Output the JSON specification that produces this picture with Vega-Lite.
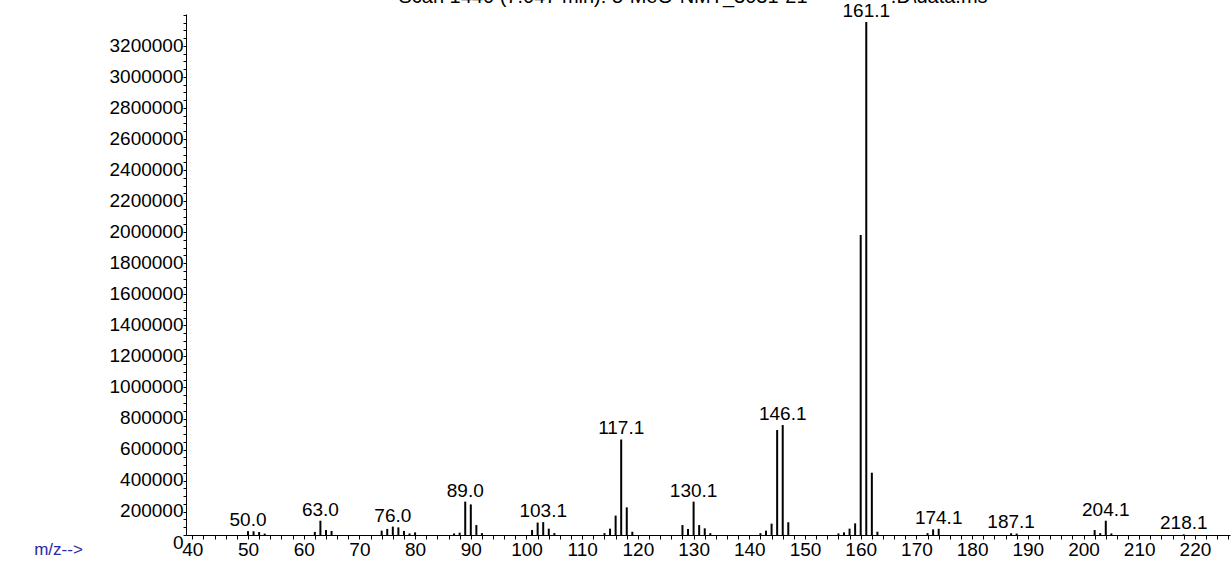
{
  "$schema": "https://vega.github.io/schema/vega-lite/v6.json",
  "autosize": {"type": "none"},
  "padding": {"left": 186, "top": 14, "right": 1, "bottom": 28},
  "width": 1044,
  "height": 521,
  "background": "white",
  "config": {
    "view": {"stroke": null},
    "font": "Liberation Sans",
    "text": {"font": "Liberation Sans"}
  },
  "title": {
    "text": "Scan 1440 (7.047 min): 5-MeO-NMT_3031-21\u00a0\u00a0\u00a0\u00a0\u00a0\u00a0\u00a0\u00a0\u00a0\u00a0\u00a0\u00a0\u00a0\u00a0\u00a0.D\\data.ms",
    "font": "Liberation Sans",
    "fontSize": 20,
    "fontWeight": "normal",
    "color": "#000000",
    "anchor": "middle",
    "frame": "group",
    "baseline": "alphabetic",
    "offset": 0,
    "dy": 21,
    "dx": -15
  },
  "data": {
    "values": [
      {"mz": 50, "intensity": 25000, "label": "50.0"},
      {"mz": 51, "intensity": 24000},
      {"mz": 52, "intensity": 19000},
      {"mz": 53, "intensity": 9000},
      {"mz": 62, "intensity": 20000},
      {"mz": 63, "intensity": 92000, "label": "63.0"},
      {"mz": 64, "intensity": 32000},
      {"mz": 65, "intensity": 26000},
      {"mz": 74, "intensity": 28000},
      {"mz": 75, "intensity": 39000},
      {"mz": 76, "intensity": 54000, "label": "76.0"},
      {"mz": 77, "intensity": 49000},
      {"mz": 78, "intensity": 26000},
      {"mz": 79, "intensity": 10000},
      {"mz": 80, "intensity": 17000},
      {"mz": 87, "intensity": 10000},
      {"mz": 88, "intensity": 15000},
      {"mz": 89, "intensity": 215000, "label": "89.0"},
      {"mz": 90, "intensity": 197000},
      {"mz": 91, "intensity": 64000},
      {"mz": 92, "intensity": 12000},
      {"mz": 101, "intensity": 32000},
      {"mz": 102, "intensity": 80000},
      {"mz": 103, "intensity": 83000, "label": "103.1"},
      {"mz": 104, "intensity": 41000},
      {"mz": 105, "intensity": 12000},
      {"mz": 114, "intensity": 12000},
      {"mz": 115, "intensity": 41000},
      {"mz": 116, "intensity": 125000},
      {"mz": 117, "intensity": 615000, "label": "117.1"},
      {"mz": 118, "intensity": 178000},
      {"mz": 119, "intensity": 21000},
      {"mz": 128, "intensity": 64000},
      {"mz": 129, "intensity": 39000},
      {"mz": 130, "intensity": 215000, "label": "130.1"},
      {"mz": 131, "intensity": 64000},
      {"mz": 132, "intensity": 43000},
      {"mz": 133, "intensity": 12000},
      {"mz": 142, "intensity": 12000},
      {"mz": 143, "intensity": 28000},
      {"mz": 144, "intensity": 73000},
      {"mz": 145, "intensity": 676000},
      {"mz": 146, "intensity": 708000, "label": "146.1"},
      {"mz": 147, "intensity": 82000},
      {"mz": 156, "intensity": 10000},
      {"mz": 157, "intensity": 17000},
      {"mz": 158, "intensity": 41000},
      {"mz": 159, "intensity": 75000},
      {"mz": 160, "intensity": 1932000},
      {"mz": 161, "intensity": 3303000, "label": "161.1"},
      {"mz": 162, "intensity": 401000},
      {"mz": 163, "intensity": 21000},
      {"mz": 172, "intensity": 12000},
      {"mz": 173, "intensity": 36000},
      {"mz": 174, "intensity": 40000, "label": "174.1"},
      {"mz": 187, "intensity": 11000, "label": "187.1"},
      {"mz": 188, "intensity": 9000},
      {"mz": 202, "intensity": 32000},
      {"mz": 203, "intensity": 12000},
      {"mz": 204, "intensity": 92000, "label": "204.1"},
      {"mz": 205, "intensity": 10000},
      {"mz": 218, "intensity": 4000, "label": "218.1"}
    ]
  },
  "encoding": {
    "x": {
      "field": "mz",
      "type": "quantitative",
      "scale": {"domain": [38.87, 226.3], "nice": false, "zero": false},
      "axis": {
        "title": "m/z-->",
        "titleX": -128,
        "titleY": 14,
        "titleAlign": "center",
        "titleBaseline": "middle",
        "titleColor": "#2a2aa0",
        "titleFont": "Liberation Sans",
        "titleFontSize": 17,
        "titleFontWeight": "normal",
        "grid": false,
        "domainColor": "#000000",
        "domainWidth": 1,
        "tickColor": "#000000",
        "tickSize": 4,
        "tickWidth": 1,
        "labelColor": "#000000",
        "labelFont": "Liberation Sans",
        "labelFontSize": 19,
        "labelPadding": 1,
        "labelFlush": false,
        "labelOverlap": false,
        "values": [40,42,44,46,48,50,52,54,56,58,60,62,64,66,68,70,72,74,76,78,80,82,84,86,88,90,92,94,96,98,100,102,104,106,108,110,112,114,116,118,120,122,124,126,128,130,132,134,136,138,140,142,144,146,148,150,152,154,156,158,160,162,164,166,168,170,172,174,176,178,180,182,184,186,188,190,192,194,196,198,200,202,204,206,208,210,212,214,216,218,220,222,224,226],
        "labelExpr": "datum.value % 10 === 0 ? datum.label : ''"
      }
    },
    "y": {
      "field": "intensity",
      "type": "quantitative",
      "scale": {"domain": [0, 3355000], "nice": false},
      "axis": {
        "title": null,
        "grid": false,
        "domainColor": "#000000",
        "domainWidth": 1,
        "tickColor": "#000000",
        "tickSize": 3,
        "tickWidth": 1,
        "labelColor": "#000000",
        "labelFont": "Liberation Sans",
        "labelFontSize": 19,
        "labelPadding": 0,
        "labelBaseline": "top",
        "labelOffset": -2,
        "labelFlush": false,
        "labelOverlap": false,
        "format": "d",
        "values": [0,50000,100000,150000,200000,250000,300000,350000,400000,450000,500000,550000,600000,650000,700000,750000,800000,850000,900000,950000,1000000,1050000,1100000,1150000,1200000,1250000,1300000,1350000,1400000,1450000,1500000,1550000,1600000,1650000,1700000,1750000,1800000,1850000,1900000,1950000,2000000,2050000,2100000,2150000,2200000,2250000,2300000,2350000,2400000,2450000,2500000,2550000,2600000,2650000,2700000,2750000,2800000,2850000,2900000,2950000,3000000,3050000,3100000,3150000,3200000,3250000,3300000,3350000],
        "labelExpr": "datum.value % 200000 === 0 ? format(datum.value, 'd') : ''"
      }
    }
  },
  "layer": [
    {
      "mark": {"type": "rule", "color": "#000000", "strokeWidth": 2},
      "encoding": {"y2": {"datum": 0}}
    },
    {
      "transform": [{"filter": "datum.label != null"}],
      "mark": {"type": "text", "font": "Liberation Sans", "fontSize": 19, "color": "#000000", "baseline": "bottom", "align": "center", "dy": -1},
      "encoding": {"text": {"field": "label"}}
    }
  ]
}
